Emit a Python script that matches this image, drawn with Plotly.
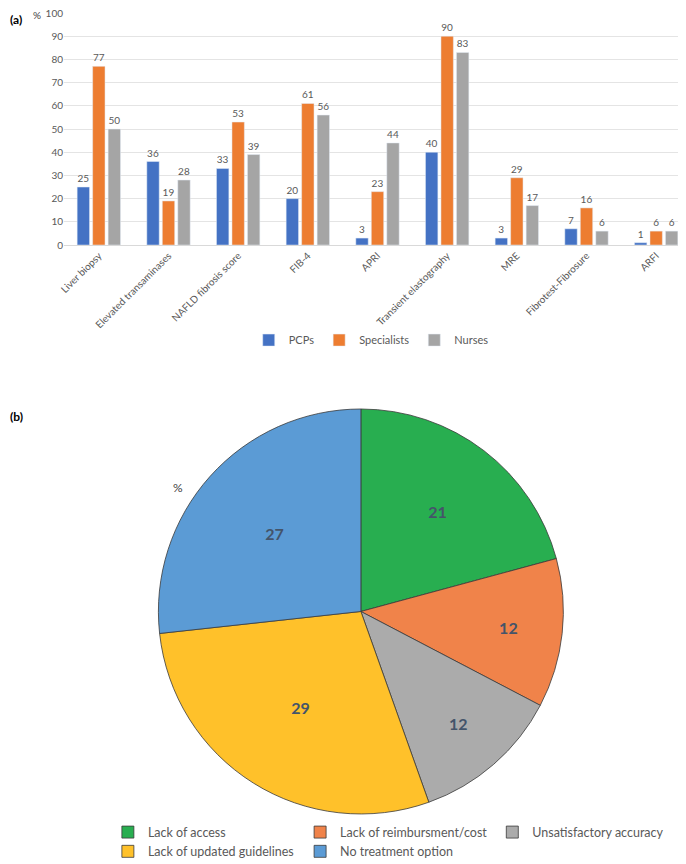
import plotly.graph_objects as go

# ---- data: (a) assessment methods by profession ----
methods = ["Liver biopsy", "Elevated transaminases", "NAFLD fibrosis score", "FIB-4", "APRI",
           "Transient elastography", "MRE", "Fibrotest-Fibrosure", "ARFI"]
pcps = [25, 36, 33, 20, 3, 40, 3, 7, 1]
specialists = [77, 19, 53, 61, 23, 90, 29, 16, 6]
nurses = [50, 28, 39, 56, 44, 83, 17, 6, 6]

# ---- data: (b) barriers ----
barriers = ["Lack of access", "Lack of reimbursment/cost", "Unsatisfactory accuracy",
            "Lack of updated guidelines", "No treatment option"]
barrier_pct = [21, 12, 12, 29, 27]

BAR_COLORS = {"PCPs": "#4472C4", "Specialists": "#ED7D31", "Nurses": "#A5A5A5"}
PIE_COLORS = ["#28AE50", "#F0834A", "#ABABAB", "#FFC12A", "#5B9BD5"]
GREY_TXT = "#595959"
FONT = "Lato, Open Sans, sans-serif"

fig = go.Figure()

for name, vals in [("PCPs", pcps), ("Specialists", specialists), ("Nurses", nurses)]:
    fig.add_bar(
        x=methods, y=vals, name=name, marker_color=BAR_COLORS[name],
        text=vals, textposition="outside", cliponaxis=False,
        textfont=dict(size=10, color=GREY_TXT, family=FONT),
        legend="legend",
    )

fig.add_pie(
    labels=barriers, values=barrier_pct, sort=False, direction="clockwise", rotation=0,
    marker=dict(colors=PIE_COLORS, line=dict(color="#3a3a3a", width=0.8)),
    texttemplate="%{value}", textposition="inside", insidetextorientation="horizontal",
    textfont=dict(size=16, color="#44546A", family=FONT, weight="bold"),
    domain=dict(x=[0.150, 0.797], y=[0.0621, 0.5363]),
    legend="legend2", showlegend=True,
)

fig.update_layout(
    width=686, height=864,
    margin=dict(l=56, r=3, t=5, b=5, autoexpand=False),
    paper_bgcolor="white", plot_bgcolor="white",
    font=dict(family=FONT, color=GREY_TXT),
    barmode="group", bargap=0.333, bargroupgap=0.2,
    xaxis=dict(domain=[0, 1], tickangle=-45, tickfont=dict(size=10, color=GREY_TXT),
               showline=True, linecolor="#D9D9D9", ticks="", automargin=False),
    yaxis=dict(domain=[0.7283, 1], range=[0, 100], dtick=10, showgrid=True,
               gridcolor="#E4E4E4", zeroline=False, automargin=False,
               ticklabeloverflow="allow", tickfont=dict(size=10, color=GREY_TXT)),
    legend=dict(orientation="h", x=0.49, xanchor="center", y=0.617, yanchor="middle",
                font=dict(size=11, color=GREY_TXT), itemwidth=30),
    legend2=dict(orientation="h", x=0.070, xanchor="left", y=0.058, yanchor="top",
                 font=dict(size=12.5, color=GREY_TXT), itemwidth=30),
    annotations=[
        dict(text="<b>(a)</b>", x=-0.089, y=0.992, xref="paper", yref="paper",
             xanchor="left", yanchor="middle", showarrow=False, font=dict(size=12, color="black")),
        dict(text="%", x=-0.053, y=0.998, xref="paper", yref="paper",
             xanchor="left", yanchor="middle", showarrow=False, font=dict(size=10, color="#404040")),
        dict(text="<b>(b)</b>", x=-0.089, y=0.528, xref="paper", yref="paper",
             xanchor="left", yanchor="middle", showarrow=False, font=dict(size=12, color="black")),
        dict(text="%", x=0.182, y=0.444, xref="paper", yref="paper",
             xanchor="center", yanchor="middle", showarrow=False, font=dict(size=12, color="#404040")),
    ],
)

fig.write_html("out.html")
